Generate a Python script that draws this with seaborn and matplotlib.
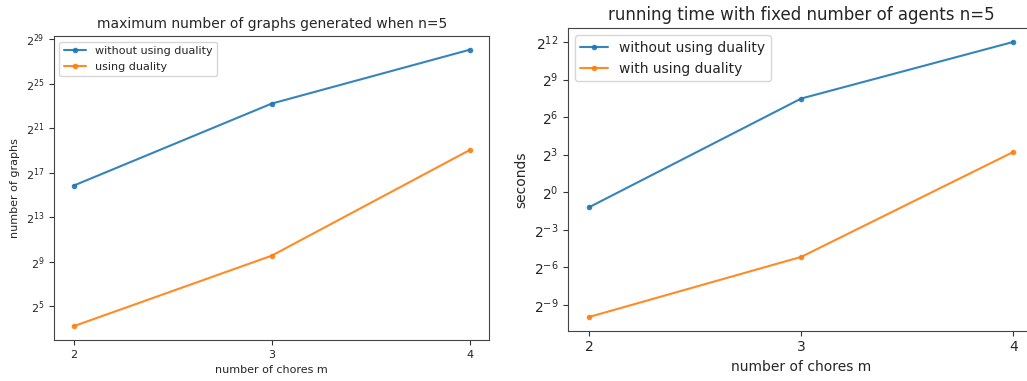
import numpy as np
import pandas as pd
import matplotlib
matplotlib.use("Agg")
import matplotlib.pyplot as plt
import matplotlib.ticker as mticker
import seaborn as sns

# data
chores = [2, 3, 4]
graphs_without = [59000, 9800000, 281000000]
graphs_with = [9.2, 745, 540000]
time_without = [0.435, 178.5, 4100]
time_with = [0.001, 0.0278, 9.25]

left_ticks = [2 ** k for k in range(5, 30, 4)]
right_ticks = [2.0 ** k for k in range(-9, 13, 3)]

sns.set_style("ticks")
plt.rcParams['font.family'] = ['DejaVu Sans']

graphs = pd.DataFrame({
    "m": chores * 2,
    "value": graphs_without + graphs_with,
    "kind": ["without using duality"] * 3 + ["using duality"] * 3,
})
times = pd.DataFrame({
    "m": chores * 2,
    "value": time_without + time_with,
    "kind": ["without using duality"] * 3 + ["with using duality"] * 3,
})

fig = plt.figure(figsize=(10.27, 3.81), dpi=100)
ax1 = fig.add_axes([0.0525, 0.1076, 0.424, 0.798])
ax2 = fig.add_axes([0.553, 0.132, 0.4542, 0.794])


def draw(ax, df, ticks, title, ylabel, fs_title, fs_lab, fs_tick, fs_leg):
    sns.lineplot(data=df, x="m", y="value", hue="kind", marker=".",
                 markersize=8, markeredgewidth=0, linewidth=1.5, alpha=0.9,
                 palette=["#1f77b4", "#ff7f0e"], ax=ax)
    ax.set_yscale("log", base=2)
    ax.set_yticks(ticks)
    ax.yaxis.set_major_formatter(mticker.LogFormatterSciNotation(base=2))
    ax.yaxis.set_minor_locator(mticker.NullLocator())
    ax.set_xticks(chores)
    ax.set_xticklabels([str(c) for c in chores])
    ax.margins(x=0.05, y=0.05)
    ax.set_title(title, fontsize=fs_title)
    ax.set_xlabel("number of chores m", fontsize=fs_lab)
    ax.set_ylabel(ylabel, fontsize=fs_lab)
    ax.tick_params(labelsize=fs_tick, color="#333333")
    for s in ax.spines.values():
        s.set_visible(True)
        s.set_color("#444444")
    ax.legend(loc="upper left", fontsize=fs_leg, title=None)


draw(ax1, graphs, left_ticks, "maximum number of graphs generated when n=5",
     "number of graphs", 10, 8, 8, 8)
draw(ax2, times, right_ticks, "running time with fixed number of agents n=5",
     "seconds", 12, 10, 10, 10)

fig.savefig("out.png", dpi=100)
